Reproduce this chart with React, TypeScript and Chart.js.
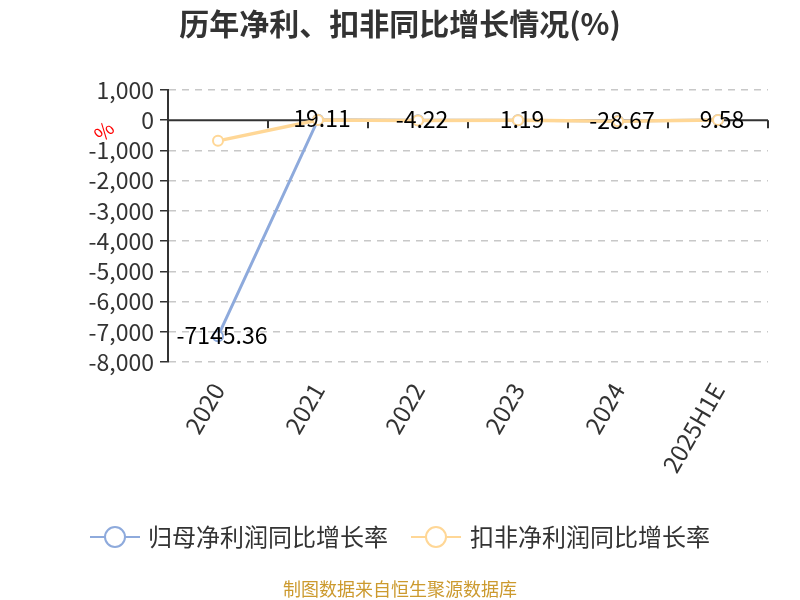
import React, { useEffect, useRef } from 'react';
import { Chart, registerables } from 'chart.js';

Chart.register(...registerables);

const categories = ['2020', '2021', '2022', '2023', '2024', '2025H1E'];
const parentNetGrowth = [-7145.36, 19.11, -4.22, 1.19, -28.67, 9.58];
const deductedNetGrowth = [-683, 3.5, -12, 2, -35, 5];
const seriesNames = ['归母净利润同比增长率', '扣非净利润同比增长率'];
const seriesColors = ['#8eaadc', '#ffd796'];
const chartTitle = '历年净利、扣非同比增长情况(%)';
const sourceNote = '制图数据来自恒生聚源数据库';

const FONT = '"Noto Sans CJK SC", "Noto Sans", sans-serif';

const decorPlugin = {
    id: 'decor',
    beforeDatasetsDraw(chart: any) {
        const { ctx, chartArea, scales } = chart;
        const x = scales.x;
        const y0 = scales.y.getPixelForValue(0);
        ctx.save();
        ctx.strokeStyle = '#333';
        ctx.lineWidth = 2;
        ctx.beginPath();
        ctx.moveTo(chartArea.left, y0);
        ctx.lineTo(chartArea.right, y0);
        for (let i = 0; i < categories.length; i++) {
            const bx = i < categories.length - 1
                ? (x.getPixelForValue(i) + x.getPixelForValue(i + 1)) / 2
                : chartArea.right;
            ctx.moveTo(bx, y0);
            ctx.lineTo(bx, y0 + 8);
        }
        ctx.stroke();
        ctx.restore();
    },
    afterDatasetsDraw(chart: any) {
        const { ctx } = chart;
        const meta = chart.getDatasetMeta(0);
        ctx.save();
        ctx.font = `23px ${FONT}`;
        ctx.fillStyle = '#000';
        ctx.textAlign = 'center';
        ctx.textBaseline = 'middle';
        meta.data.forEach((pt: any, i: number) => {
            ctx.fillText(String(parentNetGrowth[i]), pt.x + 4, pt.y - 1);
        });
        ctx.restore();
    },
    afterDraw(chart: any) {
        const { ctx, width } = chart;
        ctx.save();
        // title
        ctx.font = `bold 30px ${FONT}`;
        ctx.fillStyle = '#333';
        ctx.textAlign = 'center';
        ctx.textBaseline = 'middle';
        ctx.fillText(chartTitle, width / 2, 24);

        // unit
        ctx.save();
        ctx.translate(104, 131);
        ctx.rotate(-Math.PI / 4);
        ctx.font = `20px ${FONT}`;
        ctx.fillStyle = '#ff0000';
        ctx.fillText('%', 0, 0);
        ctx.restore();

        // legend
        const legendY = 537;
        const items = [
            { cx: 115, tx: 148 },
            { cx: 436, tx: 470 },
        ];
        ctx.font = `24px ${FONT}`;
        ctx.textAlign = 'left';
        items.forEach((it, i) => {
            ctx.strokeStyle = seriesColors[i];
            ctx.lineWidth = 2;
            ctx.beginPath();
            ctx.moveTo(it.cx - 25, legendY);
            ctx.lineTo(it.cx + 25, legendY);
            ctx.stroke();
            ctx.beginPath();
            ctx.arc(it.cx, legendY, 10, 0, Math.PI * 2);
            ctx.fillStyle = '#fff';
            ctx.fill();
            ctx.stroke();
            ctx.fillStyle = '#333';
            ctx.fillText(seriesNames[i], it.tx, legendY);
        });

        // source
        ctx.font = `18px ${FONT}`;
        ctx.fillStyle = '#cc9a2e';
        ctx.textAlign = 'center';
        ctx.fillText(sourceNote, width / 2, 589);
        ctx.restore();
    },
};

export default function App() {
    const canvasRef = useRef<HTMLCanvasElement | null>(null);
    const chartRef = useRef<Chart<"line"> | null>(null);

    useEffect(() => {
        document.body.style.margin = '0';
        if (!canvasRef.current) return;
        if (chartRef.current) chartRef.current.destroy();

        chartRef.current = new Chart(canvasRef.current, {
            type: 'line',
            data: {
                labels: categories,
                datasets: [
                    {
                        label: seriesNames[0],
                        data: parentNetGrowth,
                        borderColor: seriesColors[0],
                        backgroundColor: '#fff',
                        borderWidth: 3,
                        pointRadius: 5,
                        pointBorderWidth: 2,
                        tension: 0,
                        order: 2,
                    },
                    {
                        label: seriesNames[1],
                        data: deductedNetGrowth,
                        borderColor: seriesColors[1],
                        backgroundColor: '#fff',
                        borderWidth: 3.5,
                        pointRadius: 5,
                        pointBorderWidth: 2,
                        tension: 0,
                        order: 1,
                    },
                ],
            },
            options: {
                animation: false,
                responsive: true,
                maintainAspectRatio: false,
                layout: { padding: { top: 90, right: 32, bottom: 0, left: 0 } },
                plugins: {
                    legend: { display: false },
                    title: { display: false },
                    tooltip: { enabled: false },
                },
                scales: {
                    x: {
                        offset: true,
                        grid: { display: false },
                        border: { display: false },
                        ticks: {
                            color: '#333',
                            font: { family: FONT, size: 24 },
                            maxRotation: 60,
                            minRotation: 60,
                            autoSkip: false,
                            padding: 8,
                        },
                        afterFit: (scale: any) => { scale.height = 238; },
                    },
                    y: {
                        min: -8000,
                        max: 1000,
                        ticks: {
                            stepSize: 1000,
                            autoSkip: false,
                            color: '#333',
                            font: { family: FONT, size: 23 },
                            padding: 6,
                            callback: (v: any) => Number(v).toLocaleString('en-US'),
                        },
                        grid: {
                            color: (c: any) => (c.tick && c.tick.value === 0 ? 'rgba(0,0,0,0)' : '#c8c8c8'),
                            tickColor: '#333',
                            tickLength: 8,
                            lineWidth: 1.5,
                        },
                        border: { display: true, color: '#333', width: 2, dash: [7, 6] },
                        afterFit: (scale: any) => { scale.width = 168; },
                    },
                },
            },
            plugins: [decorPlugin],
        });

        return () => {
            if (chartRef.current) {
                chartRef.current.destroy();
                chartRef.current = null;
            }
        };
    }, []);

    return (
        <div style={{ width: 800, height: 600, position: 'relative' }}>
            <canvas ref={canvasRef}></canvas>
        </div>
    );
}
